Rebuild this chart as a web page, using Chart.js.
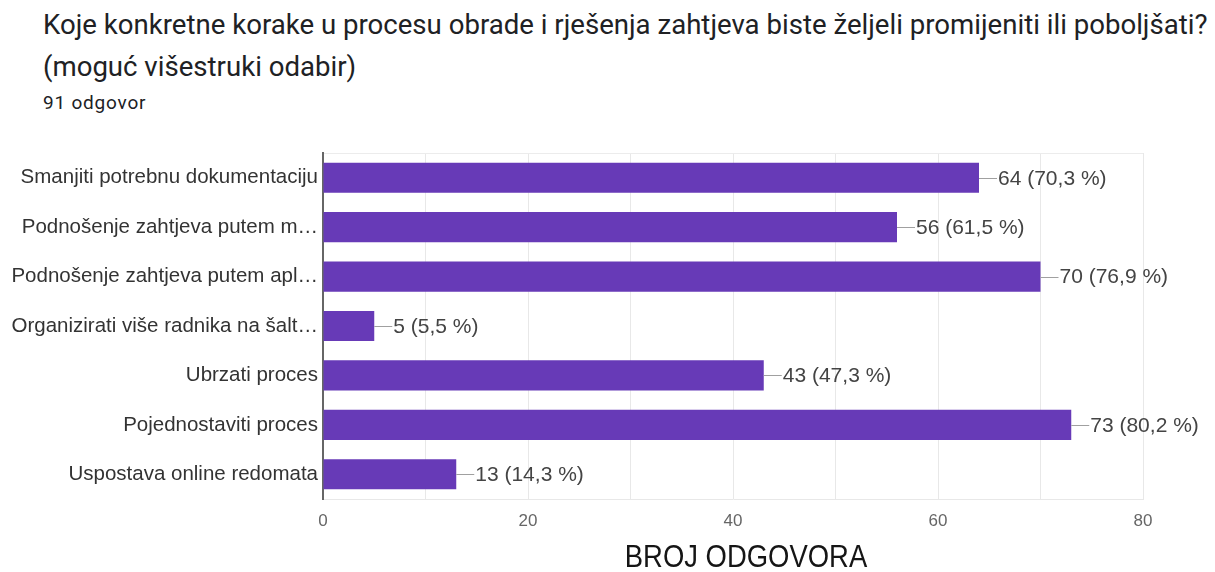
<!DOCTYPE html>
<html lang="hr">

<head>
  <meta charset="UTF-8">
  <title>Koraci u procesu obrade zahtjeva</title>
  <style>
    body { margin: 0; background: #fff; font-family: Roboto, "Liberation Sans", sans-serif; }
    #wrap { position: relative; width: 1215px; height: 572px; overflow: hidden; }
    .q { position: absolute; left: 43px; color: #202124; font-size: 27.6px; line-height: 32px; white-space: nowrap; }
    #count { position: absolute; left: 43px; top: 92px; color: #202124; font-size: 19px; line-height: 22px; letter-spacing: 0.8px; }
    #chart-box { position: absolute; left: 0; top: 0; width: 1215px; height: 572px; }
  </style>
</head>

<body>
  <div id="wrap">
    <div class="q" style="top: 9px;">Koje konkretne korake u procesu obrade i rješenja zahtjeva biste željeli promijeniti ili poboljšati?</div>
    <div class="q" style="top: 51px;">(moguć višestruki odabir)</div>
    <div id="count">91 odgovor</div>
    <div id="chart-box">
      <canvas id="chart"></canvas>
    </div>
  </div>

  <script src="https://cdn.jsdelivr.net/npm/chart.js"></script>
  <script>
    // answers as shown (long ones are cut off in the original)
    const categories = [
      'Smanjiti potrebnu dokumentaciju',
      'Podnošenje zahtjeva putem m…',
      'Podnošenje zahtjeva putem apl…',
      'Organizirati više radnika na šalt…',
      'Ubrzati proces',
      'Pojednostaviti proces',
      'Uspostava online redomata'
    ];
    const counts = [64, 56, 70, 5, 43, 73, 13];
    const percents = ['70,3', '61,5', '76,9', '5,5', '47,3', '80,2', '14,3'];
    const xAxisMax = 80;
    const xLabelEvery = 20;
    const xAxisTitle = 'BROJ ODGOVORA';

    const labelFont = '"Liberation Sans", Arial, sans-serif';

    // value label with the little leader line after each bar
    const valueLabels = {
      id: 'valueLabels',
      afterDatasetsDraw(chart) {
        const ctx = chart.ctx;
        const meta = chart.getDatasetMeta(0);
        ctx.save();
        ctx.font = '21px ' + labelFont;
        ctx.textBaseline = 'middle';
        ctx.textAlign = 'left';
        meta.data.forEach((bar, i) => {
          ctx.strokeStyle = '#a0a0a0';
          ctx.lineWidth = 1;
          ctx.beginPath();
          ctx.moveTo(bar.x, Math.round(bar.y) + 0.5);
          ctx.lineTo(bar.x + 18, Math.round(bar.y) + 0.5);
          ctx.stroke();
          ctx.fillStyle = '#444';
          ctx.fillText(`${counts[i]} (${percents[i]} %)`, bar.x + 19, bar.y + 1);
        });
        ctx.restore();
      }
    };

    // no narrow font installed, so squeeze the axis title by hand
    const narrowAxisTitle = {
      id: 'narrowAxisTitle',
      afterDraw(chart) {
        const ctx = chart.ctx;
        const area = chart.chartArea;
        const cx = (area.left + area.right) / 2 + 13;
        ctx.save();
        ctx.translate(cx, chart.height - 5);
        ctx.scale(0.885, 1);
        ctx.font = '31px ' + labelFont;
        ctx.fillStyle = '#151515';
        ctx.textAlign = 'center';
        ctx.textBaseline = 'alphabetic';
        ctx.fillText(xAxisTitle, 0, 0);
        ctx.restore();
      }
    };

    new Chart(document.getElementById('chart'), {
      type: 'bar',
      data: {
        labels: categories,
        datasets: [{
          data: counts,
          backgroundColor: '#673ab7',
          borderWidth: 0,
          barPercentage: 0.61,
          categoryPercentage: 1
        }]
      },
      options: {
        indexAxis: 'y',
        responsive: true,
        maintainAspectRatio: false,
        animation: false,
        layout: { padding: { top: 153, right: 72, left: 0, bottom: 0 } },
        plugins: {
          legend: { display: false },
          tooltip: { enabled: false }
        },
        scales: {
          x: {
            type: 'linear',
            min: 0,
            max: xAxisMax,
            afterFit: (scale) => { scale.height = 73; },
            ticks: {
              stepSize: 10,
              autoSkip: false,
              maxRotation: 0,
              callback: (v) => (v % xLabelEvery === 0 ? v : ''),
              color: '#666',
              font: { family: labelFont, size: 17 },
              padding: 12
            },
            grid: { color: '#e8e8e8', drawTicks: false },
            border: { display: true, color: '#e8e8e8' }
          },
          y: {
            afterFit: (scale) => { scale.width = 323; },
            ticks: {
              color: '#333',
              font: { family: labelFont, size: 20.5 },
              padding: 5
            },
            grid: {
              drawTicks: false,
              color: (c) => (c.index === 0 ? '#ececec' : 'rgba(0,0,0,0)')
            },
            border: { display: true, color: '#666', width: 2 }
          }
        }
      },
      plugins: [valueLabels, narrowAxisTitle]
    });
  </script>
</body>

</html>
